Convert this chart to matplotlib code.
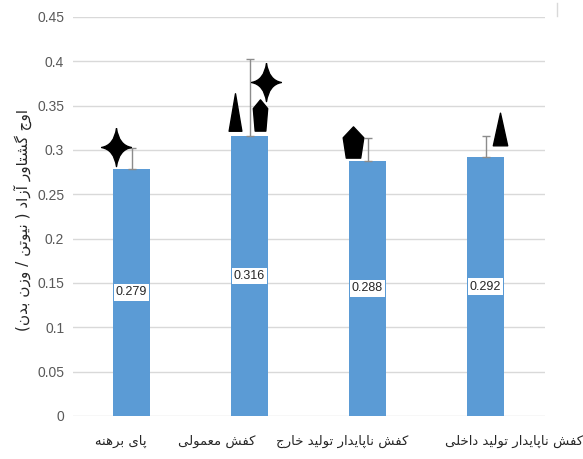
import numpy as np
import matplotlib.pyplot as plt
from matplotlib.path import Path
from matplotlib.lines import Line2D
from matplotlib.transforms import ScaledTranslation

# groups, means and upper standard deviations
groups = ['پای برهنه', 'کفش معمولی', 'کفش ناپایدار تولید خارج', 'کفش ناپایدار تولید داخلی']
means = [0.279, 0.316, 0.288, 0.292]
sd_upper = [0.023, 0.087, 0.0255, 0.024]
ylabel = 'اوج گشتاور آزاد ( نیوتن / وزن بدن)'
yticks = [0, 0.05, 0.1, 0.15, 0.2, 0.25, 0.3, 0.35, 0.4, 0.45]

# significance symbols: (bar, x offset, y, symbol)
sig_bar = [0, 1, 1, 1, 2, 3]
sig_dx = [-0.131, -0.127, 0.093, 0.136, -0.123, 0.123]
sig_y = [0.303, 0.343, 0.339, 0.377, 0.309, 0.324]
sig_kind = ['star', 'tri', 'pent', 'star', 'pent2', 'tri2']


# --- simple arabic/persian shaping (matplotlib has no shaper) ---
FORMS = {
    'ا': (0xFE8D, 0xFE8E, None, None), 'آ': (0xFE81, 0xFE82, None, None),
    'ب': (0xFE8F, 0xFE90, 0xFE91, 0xFE92), 'پ': (0xFB56, 0xFB57, 0xFB58, 0xFB59),
    'ت': (0xFE95, 0xFE96, 0xFE97, 0xFE98), 'ج': (0xFE9D, 0xFE9E, 0xFE9F, 0xFEA0),
    'خ': (0xFEA5, 0xFEA6, 0xFEA7, 0xFEA8), 'د': (0xFEA9, 0xFEAA, None, None),
    'ر': (0xFEAD, 0xFEAE, None, None), 'ز': (0xFEAF, 0xFEB0, None, None),
    'ش': (0xFEB5, 0xFEB6, 0xFEB7, 0xFEB8), 'ع': (0xFEC9, 0xFECA, 0xFECB, 0xFECC),
    'ف': (0xFED1, 0xFED2, 0xFED3, 0xFED4), 'ک': (0xFB8E, 0xFB8F, 0xFB90, 0xFB91),
    'گ': (0xFB92, 0xFB93, 0xFB94, 0xFB95), 'ل': (0xFEDD, 0xFEDE, 0xFEDF, 0xFEE0),
    'م': (0xFEE1, 0xFEE2, 0xFEE3, 0xFEE4), 'ن': (0xFEE5, 0xFEE6, 0xFEE7, 0xFEE8),
    'ه': (0xFEE9, 0xFEEA, 0xFEEB, 0xFEEC), 'و': (0xFEED, 0xFEEE, None, None),
    'ی': (0xFBFC, 0xFBFD, 0xFBFE, 0xFBFF),
}
MIRROR = {'(': ')', ')': '('}


def rtl(text):
    out = []
    for i, ch in enumerate(text):
        if ch not in FORMS:
            out.append(MIRROR.get(ch, ch))
            continue
        prev = text[i - 1] if i > 0 else ''
        nxt = text[i + 1] if i + 1 < len(text) else ''
        joins_prev = prev in FORMS and FORMS[prev][2] is not None
        joins_next = FORMS[ch][2] is not None and nxt in FORMS
        iso, fin, ini, med = FORMS[ch]
        if joins_prev and joins_next:
            code = med
        elif joins_prev:
            code = fin
        elif joins_next:
            code = ini
        else:
            code = iso
        out.append(chr(code))
    return ''.join(reversed(out))


# --- symbol shapes ---
def sparkle(w=0.39, k=0.06):
    verts = [(0, 0.5), (k, k), (w, 0), (k, -k), (0, -0.5), (-k, -k), (-w, 0), (-k, k), (0, 0.5)]
    codes = [Path.MOVETO] + [Path.CURVE3, Path.LINETO] * 4
    return Path(verts, codes)


def triangle(hw):
    return Path([(0, 0.5), (hw, -0.5), (-hw, -0.5), (0, 0.5)], closed=True)


def pentagon(sw, sy, bw):
    return Path([(0, 0.5), (sw, sy), (bw, -0.5), (-bw, -0.5), (-sw, sy), (0, 0.5)], closed=True)


shapes = {
    'star': (sparkle(), 27.5),
    'tri': (triangle(0.17), 27),
    'tri2': (triangle(0.22), 23.5),
    'pent': (pentagon(0.23, 0.22, 0.17), 22.5),
    'pent2': (pentagon(0.33, 0.15, 0.23), 22.5),
}

num_font = 'Liberation Sans'
fig = plt.figure(figsize=(5.83, 4.59), dpi=100)
ax = fig.add_axes([0.1244, 0.0937, 0.8096, 0.8693])

x = np.arange(len(groups))
ax.bar(x, means, width=0.31, color='#5b9bd5', zorder=2)
ax.errorbar(x, means, yerr=[np.zeros(len(means)), sd_upper], fmt='none',
            ecolor='#8c8c8c', elinewidth=1, capsize=3, capthick=1, zorder=3)

# value labels in white boxes
for xi, m in zip(x, means):
    ax.text(xi, m / 2, f'{m:.3f}', ha='center', va='center', fontsize=9,
            family=num_font, color='#262626', zorder=4,
            bbox=dict(boxstyle='square,pad=0.18', fc='white', ec='none'))

for b, dx, yy, kind in zip(sig_bar, sig_dx, sig_y, sig_kind):
    path, ms = shapes[kind]
    ax.plot(b + dx, yy, marker=path, markersize=ms, color='black', zorder=5, clip_on=False)

ax.set_xlim(-0.5, len(groups) - 0.5)
ax.set_ylim(0, 0.45)
ax.set_yticks(yticks)
ax.set_yticklabels([f'{t:g}' for t in yticks], family=num_font, fontsize=10, color='#595959')
ax.yaxis.grid(True, color='#d9d9d9', lw=1, zorder=0)
ax.set_axisbelow(True)
for s in ax.spines.values():
    s.set_visible(False)
ax.tick_params(axis='y', length=0, pad=6)
ax.tick_params(axis='x', length=0, pad=8)

ax.set_xticks(x)
ax.set_xticklabels([rtl(g) for g in groups], fontsize=9.5, color='#262626', family='DejaVu Sans')
shift_px = [-11, -33, -25, 29]
for lab, dpx in zip(ax.get_xticklabels(), shift_px):
    lab.set_transform(lab.get_transform() + ScaledTranslation(dpx / 100, -8 / 100, fig.dpi_scale_trans))

ax.set_ylabel(rtl(ylabel), fontsize=11, color='#262626')
ax.yaxis.set_label_coords(-0.085, 0.49)

fig.add_artist(Line2D([557 / 583] * 2, [1 - 3 / 459, 1 - 16 / 459], color='#d9d9d9', lw=1))

fig.savefig('out.png', dpi=100)
